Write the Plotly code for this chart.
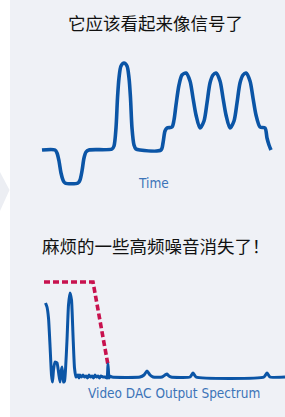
import plotly.graph_objects as go

W, H = 285, 417

# ---- Top: time-domain video waveform (time in samples, amplitude in arbitrary units) ----
time_t = [0, 13, 15, 17, 19, 21, 23, 36, 38, 40, 42, 44, 47, 70, 72, 74, 75.5, 77, 79, 82, 85,
          87, 88.5, 90, 92, 94, 98, 119, 121, 123, 125, 130, 132, 134, 137, 140, 144, 148, 151,
          154, 158, 162, 165, 168, 171, 174, 178, 181, 184, 188, 192, 195, 198, 201, 204, 208,
          211, 214, 218, 223, 225, 227, 229]
amp_a = [33, 33, 30, 22, 10, 3, 0, 0, 3, 12, 25, 31, 33, 34, 37, 55, 85, 105, 117, 120, 117,
         105, 85, 55, 38, 34, 33, 33, 40, 52, 55, 56, 63, 78, 98, 108, 110, 102, 85,
         68, 55, 62, 80, 100, 108, 110, 102, 85, 68, 55, 62, 80, 100, 108, 110, 102,
         85, 68, 56, 55, 45, 38, 33]

# ---- Bottom: DAC output spectrum (frequency bin, magnitude) ----
freq_f = [1.5, 3, 4.5, 6, 7.5, 8.5, 9.5, 11, 13, 14.5, 16, 17, 18, 19, 19.5, 20.5, 21.5, 23,
          24.5, 26, 27.5, 29, 30.5, 32, 34, 35, 36, 37.5, 39, 40.5, 42, 43.5, 45, 46.5, 48,
          49.5, 51, 52.5, 54, 55.5, 57, 59, 61, 63, 64, 65, 66, 68, 96, 100, 103, 106, 109,
          118, 121, 123, 125, 127, 146, 149, 152, 220, 223, 226, 241]
mag_m = [79, 75, 64, 37, 7, 0, 12, 20, 19, 10, 0, 10, 15, 7, 0, 1, 12, 42, 77, 89, 82,
         47, 14, 5, 7, 4, 7, 5, 7, 5, 6, 4, 7, 5, 6, 4, 7, 5, 6, 4, 6, 5, 5, 4, 18, 4, 6,
         5, 5, 7, 11, 7, 5, 5, 7, 8, 6, 5, 5, 9, 5, 5, 9, 5, 5]

# ---- Filter mask (dashed) ----
mask_f = [0, 49, 64]
mask_m = [100, 100, 17]

fig = go.Figure()
blue = "#0b55a6"
fig.add_trace(go.Scatter(x=time_t, y=amp_a, mode="lines", xaxis="x", yaxis="y",
                         line=dict(color=blue, width=3.6, shape="spline", smoothing=0.8),
                         hoverinfo="skip", showlegend=False))
fig.add_trace(go.Scatter(x=mask_f, y=mask_m, mode="lines", xaxis="x2", yaxis="y2",
                         line=dict(color="#c8124e", width=3.6, dash="6px,3px"),
                         hoverinfo="skip", showlegend=False))
fig.add_trace(go.Scatter(x=freq_f, y=mag_m, mode="lines", xaxis="x2", yaxis="y2",
                         line=dict(color=blue, width=3, shape="spline", smoothing=0.5),
                         hoverinfo="skip", showlegend=False))

def dom_x(p0, p1):
    return [p0 / W, p1 / W]

def dom_y(ptop, pbot):
    return [1 - pbot / H, 1 - ptop / H]

latin = "DejaVu Sans Condensed, Liberation Sans"
ax = dict(visible=False, showgrid=False, zeroline=False, fixedrange=True)
fig.update_layout(
    width=W, height=H, margin=dict(l=0, r=0, t=0, b=0),
    paper_bgcolor="white", plot_bgcolor="rgba(0,0,0,0)",
    xaxis=dict(ax, domain=dom_x(37, 277), range=[-5, 235]),
    yaxis=dict(ax, domain=dom_y(58, 188), range=[-5, 125]),
    xaxis2=dict(ax, domain=dom_x(39, 285), range=[-5, 241]),
    yaxis2=dict(ax, domain=dom_y(277, 387), range=[-5, 105]),
    shapes=[
        dict(type="rect", xref="paper", yref="paper", x0=10 / W, x1=1, y0=0, y1=1,
             fillcolor="#eff1f6", line=dict(width=0), layer="below"),
        dict(type="path", xref="paper", yref="paper",
             path=f"M 0 {1-172/H} L {9.5/W} {1-190/H} L 0 {1-211/H} Z",
             fillcolor="#eceef3", line=dict(width=0), layer="below"),
    ],
    annotations=[
        dict(text="它应该看起来像信号了", x=155 / W, y=1 - 23 / H, xref="paper", yref="paper",
             showarrow=False, xanchor="center", yanchor="middle",
             font=dict(family="Noto Sans CJK SC", size=17.5, color="#111111")),
        dict(text="Time", x=153 / W, y=1 - 183 / H, xref="paper", yref="paper",
             showarrow=False, xanchor="center", yanchor="middle",
             font=dict(family=latin, size=13.5, color="#3c74b8")),
        dict(text="麻烦的一些高频噪音消失了！", x=156 / W, y=1 - 245 / H, xref="paper", yref="paper",
             showarrow=False, xanchor="center", yanchor="middle",
             font=dict(family="Noto Sans CJK SC", size=17.5, color="#111111")),
        dict(text="Video DAC Output Spectrum", x=174 / W, y=1 - 393 / H, xref="paper", yref="paper",
             showarrow=False, xanchor="center", yanchor="middle",
             font=dict(family=latin, size=13.5, color="#3c74b8")),
    ],
)
fig.write_html("out.html", config={"displayModeBar": False},
               post_script="document.body.style.margin='0';document.body.style.overflow='hidden';")
